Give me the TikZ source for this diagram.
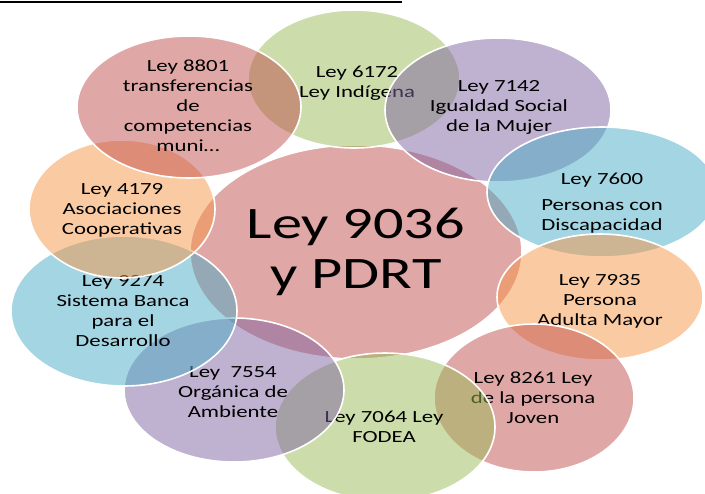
\documentclass[tikz,border=0pt]{standalone}
\usepackage{fontspec}
\setmainfont{Carlito}[FakeStretch=1.34]
\usepackage{tikz}
\usetikzlibrary{shapes.geometric}

\definecolor{rojoley}{HTML}{C0504D}
\definecolor{verdeley}{HTML}{9BBB59}
\definecolor{moradoley}{HTML}{8064A2}
\definecolor{azulley}{HTML}{4BACC6}
\definecolor{naranjaley}{HTML}{F79646}

\tikzset{
  burbuja/.style={ellipse, draw=white, line width=1.2pt, fill=#1, fill opacity=0.5, draw opacity=1, inner sep=0pt, outer sep=0pt},
  radios/.style 2 args={minimum width=#1*1.5pt, minimum height=#2*1.5pt},
  texto/.style={align=center, inner sep=0pt, text=black, font=\fontsize{12.75}{15}\selectfont},
  textogrande/.style={align=center, inner sep=0pt, text=black, font=\fontsize{33.75}{37.5}\selectfont}
}

\begin{document}
\begin{tikzpicture}[x=0.75pt,y=0.75pt,yscale=-1,xscale=1]
\fill[white] (0,0) rectangle (705,493);
\useasboundingbox (0,0) rectangle (705,493);

%Straight Lines
\draw[line width=1.5pt] (0,1.5) -- (402,1.5);

%Shape: Ellipse (centro)
\node[burbuja=rojoley, radios={166}{107}] (ley9036) at (356,252) {};
% Text Node
\node[textogrande] (t9036) at (356,252) {Ley 9036\\y PDRT};

%Shape: Ellipse
\node[burbuja=verdeley, radios={106}{69}] (ley6172) at (354,79) {};
% Text Node
\node[texto] (t6172) at (357,83) {Ley 6172\\Ley Indígena};

%Shape: Ellipse
\node[burbuja=moradoley, radios={113}{72}] (ley7142) at (498,110) {};
% Text Node
\node[texto] (t7142) at (499,107) {Ley 7142\\Igualdad Social\\de la Mujer};

%Shape: Ellipse
\node[burbuja=azulley, radios={115}{65}] (ley7600) at (602,192) {};
% Text Node
\node[texto] (t7600) at (602,203) {Ley 7600\\[5pt]Personas con\\Discapacidad};

%Shape: Ellipse
\node[burbuja=naranjaley, radios={103}{63}] (ley7935) at (600,297) {};
% Text Node
\node[texto] (t7935) at (600,301) {Ley 7935\\Persona\\Adulta Mayor};

%Shape: Ellipse
\node[burbuja=rojoley, radios={100}{74}] (ley8261) at (534,398) {};
% Text Node
\node[texto] (t8261) at (533,398) {Ley 8261 Ley\\de la persona\\Joven};

%Shape: Ellipse
\node[burbuja=verdeley, radios={110}{74}] (ley7064) at (385,427) {};
% Text Node
\node[texto] (t7064) at (384,427) {Ley 7064 Ley\\FODEA};

%Shape: Ellipse
\node[burbuja=moradoley, radios={110}{72}] (ley7554) at (234,390) {};
% Text Node
\node[texto] (t7554) at (233,392) {Ley~~7554\\Orgánica de\\Ambiente};

%Shape: Ellipse
\node[burbuja=azulley, radios={113}{75}] (ley9274) at (124,311) {};
% Text Node
\node[texto] (t9274) at (123,311) {Ley 9274\\Sistema Banca\\para el\\Desarrollo};

%Shape: Ellipse
\node[burbuja=naranjaley, radios={93}{69}] (ley4179) at (122,209) {};
% Text Node
\node[texto] (t4179) at (122,210) {Ley 4179\\Asociaciones\\Cooperativas};

%Shape: Ellipse
\node[burbuja=rojoley, radios={112}{71}] (ley8801) at (189,107) {};
% Text Node
\node[texto] (t8801) at (188,106) {Ley 8801\\transferencias\\de\\competencias\\muni…};

\end{tikzpicture}
\end{document}
